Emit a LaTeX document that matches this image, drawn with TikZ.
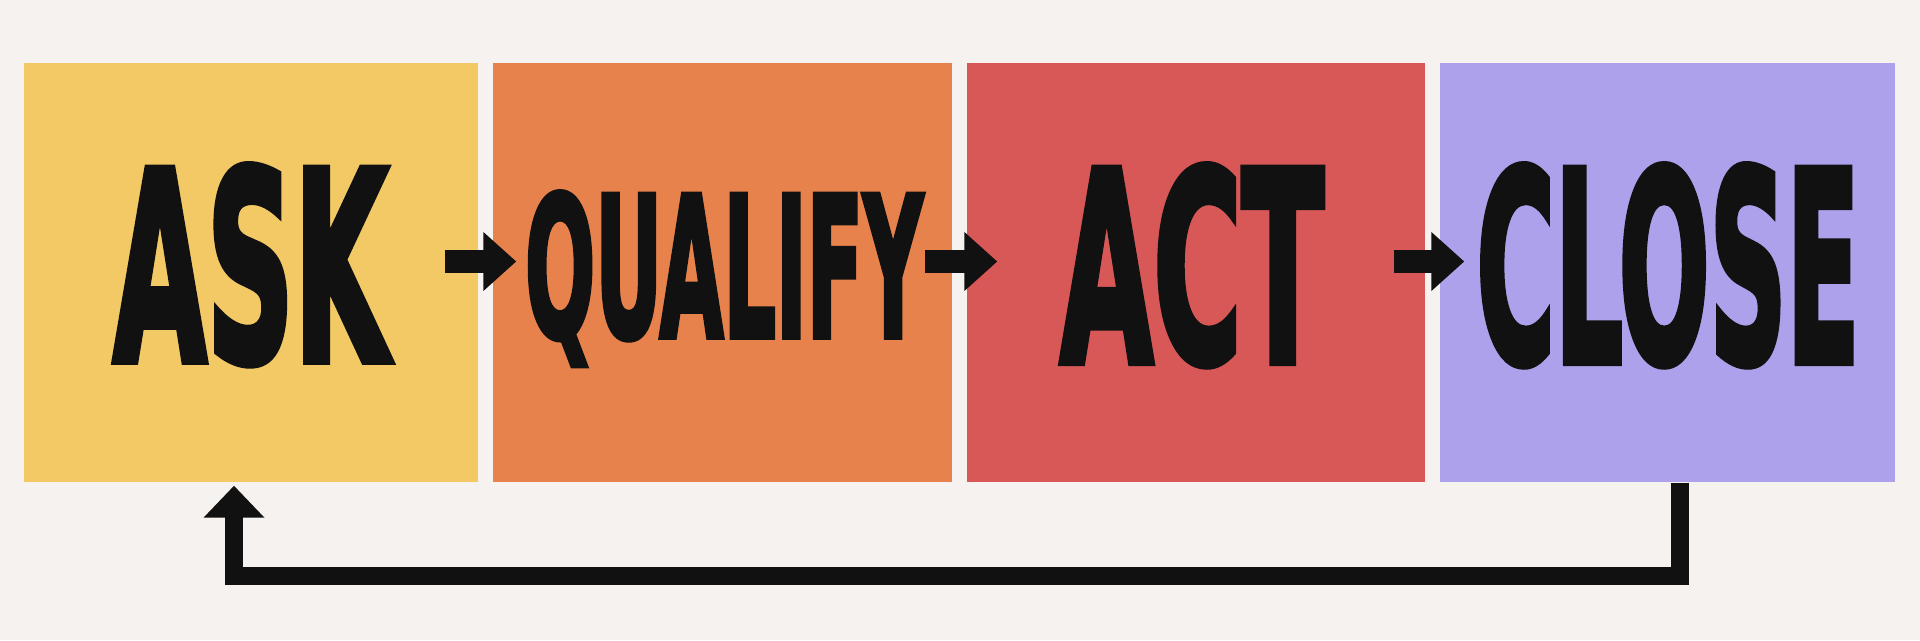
\documentclass[tikz,border=0pt]{standalone}
\usepackage{graphicx}
\usepackage{fontspec}
\usetikzlibrary{arrows.meta,calc}
\newfontfamily\labelfont{DejaVu Sans Condensed}[FakeBold=3]
\definecolor{paper}{RGB}{246,242,239}
\definecolor{ink}{RGB}{17,17,17}
\definecolor{askcol}{RGB}{243,201,102}
\definecolor{qualcol}{RGB}{232,130,76}
\definecolor{actcol}{RGB}{216,88,88}
\definecolor{closecol}{RGB}{173,161,236}
\newcommand{\stagelabel}[3]{\resizebox{#1}{#2}{\labelfont\bfseries #3}}
\begin{document}
\begin{tikzpicture}[x=0.1mm,y=-0.1mm,
    stage/.style={inner sep=0pt, minimum height=41.95mm},
    flow/.style={ink, line width=2.3mm, -{Triangle[length=3.3mm,width=5.7mm]}},
    loopback/.style={ink, line width=1.8mm, -{Triangle[length=3.2mm,width=5.9mm]}}]
    \fill[paper] (0,0) rectangle (1920,640);
    \useasboundingbox (0,0) rectangle (1920,640);

    % the four stages
    \node[stage, fill=askcol, minimum width=45.4mm] (ask) at (251,272.25) {};
    \node[stage, fill=qualcol, minimum width=45.9mm] (qualify) at (722.5,272.25) {};
    \node[stage, fill=actcol, minimum width=45.8mm] (act) at (1196,272.25) {};
    \node[stage, fill=closecol, minimum width=45.5mm] (close) at (1667.5,272.25) {};

    \node[anchor=base, ink] (asklabel) at (250.5,361) {\stagelabel{27.5mm}{19.6mm}{ASK}};
    \node[anchor=base, ink] (quallabel) at (724,337) {\stagelabel{39.8mm}{14.5mm}{QUALIFY}};
    \node[anchor=base, ink] (actlabel) at (1192,362) {\stagelabel{26.4mm}{19.7mm}{ACT}};
    \node[anchor=base, ink] (closelabel) at (1668,362) {\stagelabel{38.3mm}{19.7mm}{CLOSE}};

    % arrows between the stages
    \foreach \from/\to/\back/\into in {ask/qualify/34/24, qualify/act/28/31, act/close/32/25} {
        \draw[flow] ($(\from.east)+(-\back,-10.75)$) -- ($(\to.west)+(\into,-10.75)$);
    }

    % back to the start
    \draw[loopback] ($(close.south)+(12.5,0)$) -- ++(0,93.5) -| ($(ask.south)+(-17,3)$);
\end{tikzpicture}
\end{document}
